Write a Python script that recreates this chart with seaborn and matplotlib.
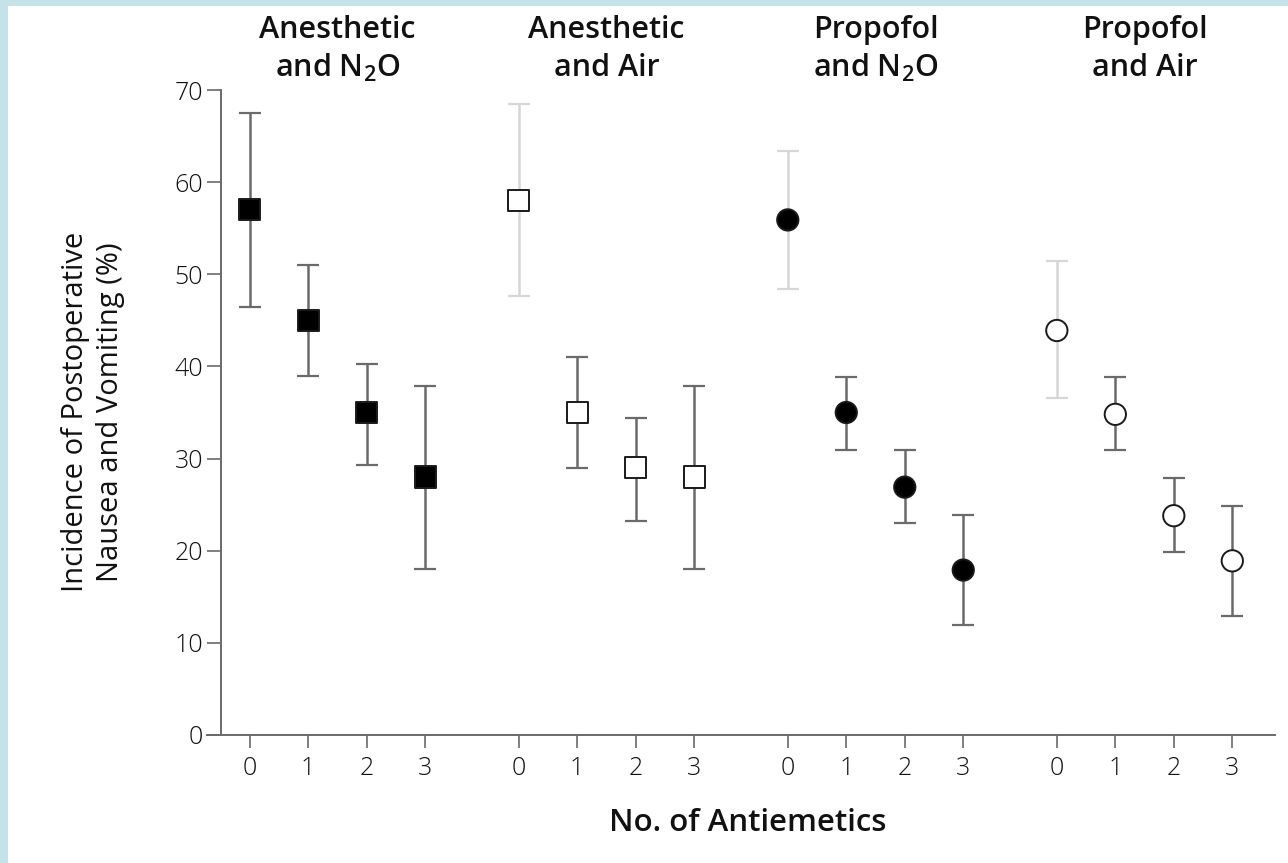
import numpy as np
import pandas as pd
import matplotlib
matplotlib.use("Agg")
import matplotlib.pyplot as plt
import matplotlib.transforms as mtransforms
from matplotlib.patches import Rectangle
import seaborn as sns

# ---------------- data ----------------
groups = ["Volatile Anesthetic and N2O", "Volatile Anesthetic and Air",
          "Propofol and N2O", "Propofol and Air"]
n_antiemetics = [0, 1, 2, 3]

va_n2o_mid = [57.0, 45.0, 35.0, 28.0]
va_n2o_lo = [46.5, 39.0, 29.3, 18.0]
va_n2o_hi = [67.5, 51.0, 40.3, 37.9]

va_air_mid = [58.0, 35.0, 29.0, 28.0]
va_air_lo = [47.6, 29.0, 23.2, 18.0]
va_air_hi = [68.5, 41.0, 34.4, 37.9]

pr_n2o_mid = [55.9, 35.0, 26.9, 17.9]
pr_n2o_lo = [48.4, 30.9, 23.0, 11.9]
pr_n2o_hi = [63.4, 38.9, 30.9, 23.9]

pr_air_mid = [43.9, 34.8, 23.8, 18.9]
pr_air_lo = [36.6, 30.9, 19.9, 12.9]
pr_air_hi = [51.4, 38.8, 27.9, 24.9]

header_lines = [["Volatile", "Anesthetic", r"and N$_\mathregular{2}$O"],
                ["Volatile", "Anesthetic", "and Air"],
                [None, "Propofol", r"and N$_\mathregular{2}$O"],
                [None, "Propofol", "and Air"]]
y_ticks = [0, 10, 20, 30, 40, 50, 60, 70]
x_label = "No. of Antiemetics"
y_label = "Incidence of Postoperative\nNausea and Vomiting (%)"

mids = [va_n2o_mid, va_air_mid, pr_n2o_mid, pr_air_mid]
los = [va_n2o_lo, va_air_lo, pr_n2o_lo, pr_air_lo]
his = [va_n2o_hi, va_air_hi, pr_n2o_hi, pr_air_hi]

# ---------------- layout / style ----------------
GROUP_STRIDE = 4.6
rows = []
for g, name in enumerate(groups):
    for k, n in enumerate(n_antiemetics):
        rows.append({"group": name, "n": n, "pos": g * GROUP_STRIDE + k,
                     "incidence": mids[g][k], "lo": los[g][k], "hi": his[g][k],
                     "gi": g, "ki": k})
df = pd.DataFrame(rows)

sns.set_theme(style="ticks")
plt.rcParams["font.family"] = ["Open Sans", "DejaVu Sans"]
plt.rcParams["mathtext.fontset"] = "custom"
plt.rcParams["mathtext.rm"] = "Open Sans:semibold"
plt.rcParams["mathtext.default"] = "regular"

W, H = 1288, 863
fig = plt.figure(figsize=(W / 100, H / 100), dpi=100)
fig.patch.set_facecolor("white")

ax_l, ax_r, ax_t, ax_b = 207, 1275, 90, 735
ax = fig.add_axes([ax_l / W, 1 - ax_b / H, (ax_r - ax_l) / W, (ax_b - ax_t) / H])
ax.set_facecolor("white")

x_left, x_right = -0.73, 3 * GROUP_STRIDE + 3 + 0.73
spine_x = -0.49
ax.set_xlim(x_left, x_right)
ax.set_ylim(0, 70)

ebar_dark = "#6a6a6a"
ebar_light = "#d6d6d6"
for _, r in df.iterrows():
    col = ebar_light if (r["ki"] == 0 and r["gi"] > 0) else ebar_dark
    ax.errorbar(r["pos"], r["incidence"],
                yerr=[[r["incidence"] - r["lo"]], [r["hi"] - r["incidence"]]],
                fmt="none", ecolor=col, elinewidth=1.8, capsize=8, capthick=1.6,
                zorder=2, clip_on=False)

face_pal = {groups[0]: "black", groups[1]: "white", groups[2]: "black", groups[3]: "white"}
marker_map = {groups[0]: "s", groups[1]: "s", groups[2]: "o", groups[3]: "o"}
sns.scatterplot(data=df, x="pos", y="incidence", hue="group", style="group",
                palette=face_pal, markers=marker_map, s=235,
                edgecolor="#1a1a1a", linewidth=1.4, legend=False, zorder=3,
                clip_on=False, ax=ax)

# axes styling
for s in ["top", "right"]:
    ax.spines[s].set_visible(False)
ax.spines["left"].set_position(("data", spine_x))
ax.spines["left"].set_bounds(0, 70)
for s in ["left", "bottom"]:
    ax.spines[s].set_color("#6a6a6a")
    ax.spines[s].set_linewidth(1.4)

ax.set_xticks(df["pos"].tolist())
ax.set_xticklabels([str(n) for n in df["n"]])
ax.set_yticks(y_ticks)
ax.set_yticklabels([str(v) for v in y_ticks])
ax.tick_params(axis="y", length=10, width=1.2, color="#6a6a6a", pad=3,
               labelsize=18, labelcolor="#111111")
ax.tick_params(axis="x", length=9, width=1.2, color="#6a6a6a", pad=6,
               labelsize=18, labelcolor="#111111")
for t in ax.get_xticklabels() + ax.get_yticklabels():
    t.set_fontweight("light")
ax.set_xlabel("")
ax.set_ylabel("")

# faint rendering of a few ticks as in the reference
xt = ax.xaxis.get_major_ticks()
for i in [4, 8, 12, 13]:
    xt[i].tick1line.set_color("#d6d6d6")

# headers
trans = mtransforms.blended_transform_factory(ax.transData, fig.transFigure)
line_y = [-8, 30, 68]
for g, lines in enumerate(header_lines):
    cx = g * GROUP_STRIDE + 1.5
    for j, txt in enumerate(lines):
        if txt is None:
            continue
        ax.text(cx, 1 - line_y[j] / H, txt, transform=trans, ha="center",
                va="center", fontsize=22, fontweight="semibold", color="#111111",
                clip_on=False)

fig.text(748 / W, 1 - 823 / H, x_label, ha="center", va="center", fontsize=22.5,
         fontweight="semibold", color="#111111")
fig.text(93 / W, 1 - 412 / H, y_label, ha="center", va="center", rotation=90,
         fontsize=21, color="#111111", linespacing=1.3)

# light blue frame on top and left edge
band = "#c4e2e8"
fig.add_artist(Rectangle((0, 1 - 6 / H), 1, 6 / H, transform=fig.transFigure,
                         facecolor=band, edgecolor="none", zorder=10))
fig.add_artist(Rectangle((0, 0), 8 / W, 1, transform=fig.transFigure,
                         facecolor=band, edgecolor="none", zorder=10))

fig.savefig("out.png", dpi=100, facecolor="white")
